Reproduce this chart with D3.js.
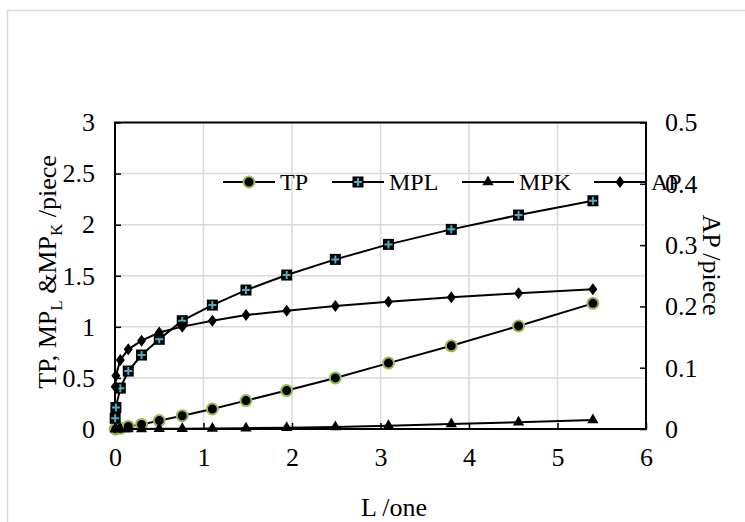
<!DOCTYPE html>
<html>
<head>
<meta charset="utf-8">
<script src="https://cdn.jsdelivr.net/npm/d3@7"></script>
<style>
  body { margin: 0; background: #fff; }
  svg text { font-family: "Liberation Serif", "Times New Roman", serif; fill: #000; }
</style>
</head>
<body>
<svg width="745" height="522"></svg>
<script>
// données
const L   = [0.002, 0.01, 0.06, 0.15, 0.30, 0.50, 0.76, 1.10, 1.48, 1.94, 2.49, 3.09, 3.80, 4.56, 5.40];
const TP  = [0.0, 0.001, 0.007, 0.025, 0.045, 0.082, 0.13, 0.196, 0.278, 0.376, 0.50, 0.645, 0.814, 1.008, 1.23];
const MPL = [0.105, 0.21, 0.40, 0.567, 0.724, 0.878, 1.06, 1.213, 1.36, 1.507, 1.66, 1.807, 1.954, 2.094, 2.234];
const MPK = [0, 0, 0, 0, 0.001, 0.002, 0.003, 0.005, 0.008, 0.013, 0.02, 0.032, 0.048, 0.066, 0.088];
const AP  = [0.069, 0.087, 0.1125, 0.130, 0.144, 0.1575, 0.167, 0.1765, 0.186, 0.193, 0.2007, 0.2077, 0.2148, 0.2214, 0.2279];

const xTicks = [0, 1, 2, 3, 4, 5, 6];
const yTicks = [0, 0.5, 1, 1.5, 2, 2.5, 3];
const y2Ticks = [0, 0.1, 0.2, 0.3, 0.4, 0.5];
const legendNames = ["TP", "MPL", "MPK", "AP"];

const svg = d3.select("svg");
const fs = 26;      // axes
const fsLeg = 24;   // légende

// cadre de la zone du graphique
svg.append("rect")
  .attr("x", 7.5).attr("y", 10.5)
  .attr("width", 800).attr("height", 600)
  .attr("fill", "none").attr("stroke", "#d9d9d9").attr("stroke-width", 1.5);

const pLeft = 115, pRight = 646, pTop = 122.5, pBottom = 429;

const x = d3.scaleLinear().domain([0, 6]).range([pLeft, pRight]);
const y = d3.scaleLinear().domain([0, 3]).range([pBottom, pTop]);
const y2 = d3.scaleLinear().domain([0, 0.5]).range([pBottom, pTop]);

// grille
svg.append("g").selectAll("line")
  .data(xTicks.slice(1, -1))
  .join("line")
  .attr("x1", d => x(d)).attr("x2", d => x(d))
  .attr("y1", pTop).attr("y2", pBottom)
  .attr("stroke", "#d9d9d9").attr("stroke-width", 1.5);

svg.append("g").selectAll("line")
  .data(yTicks.slice(1, -1))
  .join("line")
  .attr("x1", pLeft).attr("x2", pRight)
  .attr("y1", d => y(d)).attr("y2", d => y(d))
  .attr("stroke", "#d9d9d9").attr("stroke-width", 1.5);

// axes
function styleAxis(g) {
  g.select(".domain").remove();
  g.selectAll(".tick line").attr("stroke", "#000").attr("stroke-width", 1.5);
  g.selectAll(".tick text").attr("font-size", fs).attr("font-family", "Liberation Serif");
}

svg.append("g")
  .attr("transform", `translate(0,${pBottom})`)
  .call(d3.axisBottom(x).tickValues(xTicks).tickFormat(d3.format("d")).tickSizeInner(-6).tickSizeOuter(0).tickPadding(19))
  .call(styleAxis);

svg.append("g")
  .attr("transform", `translate(${pLeft},0)`)
  .call(d3.axisLeft(y).tickValues(yTicks).tickFormat(d => String(d)).tickSizeInner(-6).tickSizeOuter(0).tickPadding(20))
  .call(styleAxis);

svg.append("g")
  .attr("transform", `translate(${pRight},0)`)
  .call(d3.axisRight(y2).tickValues(y2Ticks).tickFormat(d => String(d)).tickSizeInner(-6).tickSizeOuter(0).tickPadding(19))
  .call(styleAxis);

// cadre du tracé
svg.append("rect")
  .attr("x", pLeft).attr("y", pTop)
  .attr("width", pRight - pLeft).attr("height", pBottom - pTop)
  .attr("fill", "none").attr("stroke", "#000").attr("stroke-width", 2);

// marqueurs
function marker(g, type) {
  if (type === "TP") {
    g.append("circle").attr("r", 5.5).attr("fill", "#000").attr("stroke", "#9bbb59").attr("stroke-width", 2);
  } else if (type === "MPL") {
    g.append("rect").attr("x", -5.5).attr("y", -5.5).attr("width", 11).attr("height", 11).attr("fill", "#000");
    g.append("path").attr("d", "M-4,0H4M0,-4V4").attr("stroke", "#4bacc6").attr("stroke-width", 2);
  } else if (type === "MPK") {
    g.append("path").attr("d", d3.symbol(d3.symbolTriangle, 55)()).attr("fill", "#000");
  } else {
    g.append("path").attr("d", "M0,-6L4.5,0L0,6L-4.5,0Z").attr("fill", "#000");
  }
}

const series = [
  { name: "TP", values: TP, scale: y },
  { name: "MPL", values: MPL, scale: y },
  { name: "MPK", values: MPK, scale: y },
  { name: "AP", values: AP, scale: y2 }
];

series.forEach(s => {
  const pts = L.map((l, i) => [l, s.values[i]]);
  svg.append("path")
    .datum(pts)
    .attr("fill", "none").attr("stroke", "#000").attr("stroke-width", 2)
    .attr("d", d3.line().x(d => x(d[0])).y(d => s.scale(d[1])));
  svg.append("g").selectAll("g")
    .data(pts)
    .join("g")
    .attr("transform", d => `translate(${x(d[0])},${s.scale(d[1])})`)
    .each(function() { marker(d3.select(this), s.name); });
});

// légende
const legendX = [223, 332, 462, 594];
const legendY = 182;
legendNames.forEach((n, i) => {
  const g = svg.append("g").attr("transform", `translate(${legendX[i]},${legendY})`);
  g.append("line").attr("x1", 0).attr("x2", 52).attr("stroke", "#000").attr("stroke-width", 2);
  const m = g.append("g").attr("transform", "translate(26,0)");
  marker(m, n);
  g.append("text").attr("x", 57).attr("dy", "0.35em").attr("font-size", fsLeg).text(n);
});

// titres des axes
svg.append("text")
  .attr("x", 394).attr("y", 507)
  .attr("text-anchor", "middle").attr("dy", "0.35em")
  .attr("font-size", fs)
  .text("L /one");

const yt = svg.append("text")
  .attr("transform", "translate(47,272) rotate(-90)")
  .attr("text-anchor", "middle").attr("dy", "0.35em")
  .attr("font-size", fs);
yt.append("tspan").text("TP, MP");
yt.append("tspan").attr("font-size", 17).attr("dy", 6).text("L");
yt.append("tspan").attr("dy", -6).text(" &MP");
yt.append("tspan").attr("font-size", 17).attr("dy", 6).text("K");
yt.append("tspan").attr("dy", -6).text(" /piece");

svg.append("text")
  .attr("transform", "translate(712,265) rotate(90)")
  .attr("text-anchor", "middle").attr("dy", "0.35em")
  .attr("font-size", fs)
  .text("AP /piece");
</script>
</body>
</html>
